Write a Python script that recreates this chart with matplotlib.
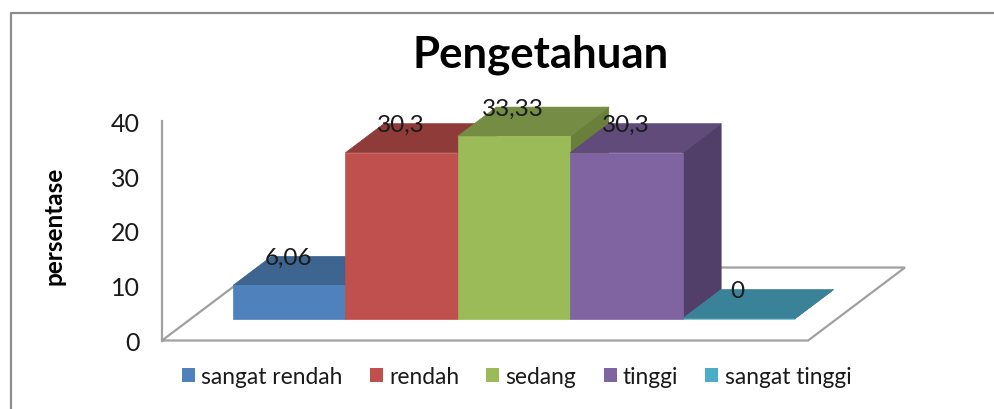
import matplotlib
matplotlib.use('Agg')
import matplotlib.pyplot as plt
from matplotlib.patches import Patch, Polygon
from matplotlib.lines import Line2D

categories = ['sangat rendah', 'rendah', 'sedang', 'tinggi', 'sangat tinggi']
values = [6.06, 30.3, 33.33, 30.3, 0]
value_labels = ['6,06', '30,3', '33,33', '30,3', '0']
y_ticks = [0, 10, 20, 30, 40]

front_colors = ['#4F81BD', '#C0504D', '#9BBB59', '#8064A2', '#4BACC6']
top_colors = ['#3E6490', '#8F3B39', '#748C43', '#604B7A', '#398298']
side_colors = ['#324F73', '#722F2E', '#6A7F3C', '#523F69', '#2E6879']

plt.rcParams['font.family'] = ['Lato', 'DejaVu Sans']
text_color = '#1a1a1a'
line_color = '#A0A0A0'

fig = plt.figure(figsize=(9.95, 4.10), dpi=100)
ax = fig.add_axes([162 / 995, 68.5 / 410, 743 / 995, 219 / 410])
ax.set_xlim(-1.132, 5.478)
ax.set_ylim(0, 40)
ax.patch.set_alpha(0)

# fake 3d: depth of the bars and where they stand on the floor
base = 4.0
dx = 0.3425
dy = 5.3

floor = [(-1.132, 0), (4.616, 0), (5.478, 13.33), (-0.27, 13.33)]
ax.add_patch(Polygon(floor, closed=True, facecolor='white', edgecolor=line_color,
                     linewidth=1.6, clip_on=False, zorder=1))

for i in range(len(values)):
    left = i - 0.5
    right = i + 0.5
    top = base + values[i]
    side = [(right, base), (right + dx, base + dy), (right + dx, top + dy), (right, top)]
    roof = [(left, top), (left + dx, top + dy), (right + dx, top + dy), (right, top)]
    z = 2 + i
    ax.add_patch(Polygon(side, closed=True, facecolor=side_colors[i], edgecolor=side_colors[i],
                         linewidth=0.5, clip_on=False, zorder=z))
    ax.add_patch(Polygon(roof, closed=True, facecolor=top_colors[i], edgecolor=top_colors[i],
                         linewidth=0.5, clip_on=False, zorder=z))
    ax.bar(i, values[i], width=1, bottom=base, color=front_colors[i], edgecolor=front_colors[i],
           linewidth=0.5, clip_on=False, zorder=z)

for i in range(len(values)):
    ax.text(i - 0.01, base + values[i] + dy - 0.2, value_labels[i], ha='center', va='center',
            fontsize=17.5, color=text_color, zorder=10, clip_on=False)

for name in ['top', 'right', 'bottom']:
    ax.spines[name].set_visible(False)
ax.spines['left'].set_color(line_color)
ax.spines['left'].set_linewidth(1.6)
ax.set_xticks([])
ax.set_yticks(y_ticks)
ax.tick_params(axis='y', length=0, pad=16, labelsize=18, labelcolor=text_color)

fig.text(54 / 995, 1 - 226 / 410, 'persentase', rotation=90, ha='center', va='center',
         fontsize=17.5, fontweight='bold', color='black')
fig.text(541 / 995, 1 - 55 / 410, 'Pengetahuan', ha='center', va='center',
         fontsize=31.5, fontweight='bold', color='black')

handles = [Patch(facecolor=c, edgecolor='none') for c in front_colors]
fig.legend(handles, categories, ncol=5, loc='center left', frameon=False,
           bbox_to_anchor=(182 / 995, 1 - 378 / 410), fontsize=16.4, labelcolor=text_color,
           handlelength=0.57, handleheight=0.57, handletextpad=0.27, columnspacing=1.2,
           borderpad=0, borderaxespad=0)

# chart border, only left and top are in the picture
fig.add_artist(Line2D([11 / 995, 11 / 995, 1], [0, 1 - 13.5 / 410, 1 - 13.5 / 410],
                      color='#8C8C8C', linewidth=1.6, transform=fig.transFigure))

fig.savefig('out.png', dpi=100)
